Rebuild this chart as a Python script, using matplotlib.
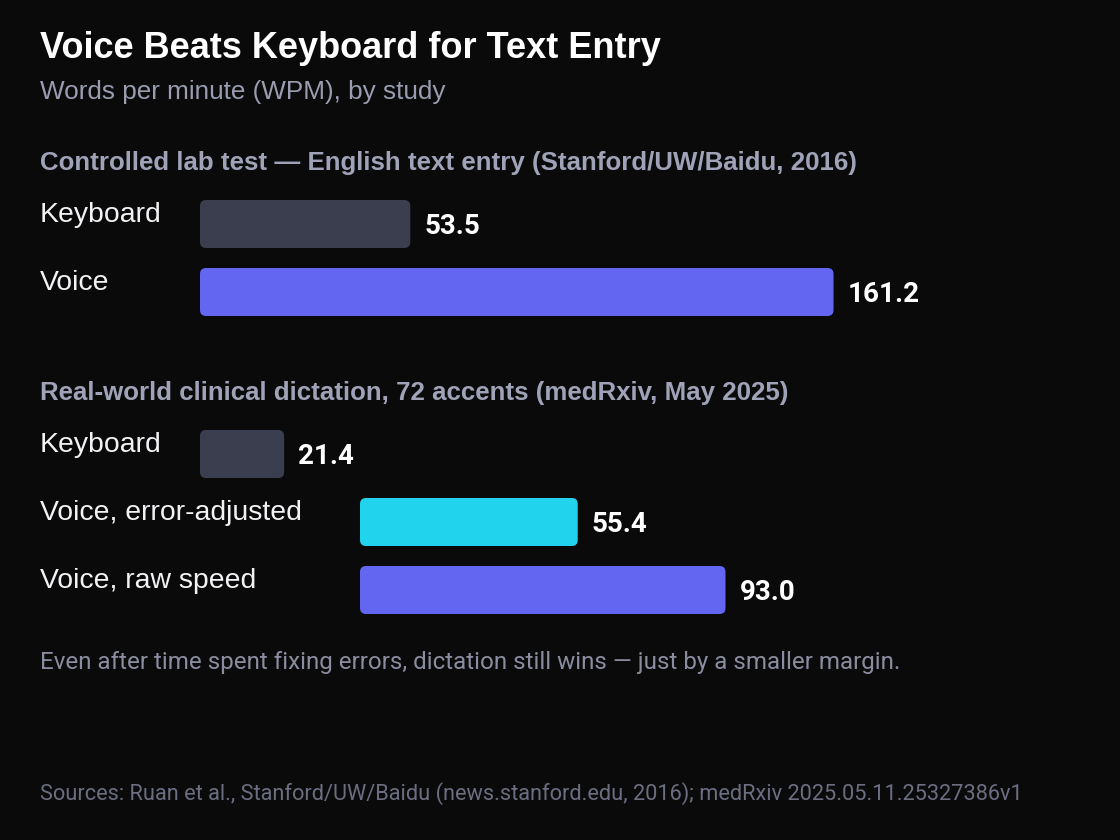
import matplotlib
matplotlib.use("Agg")
import matplotlib.pyplot as plt
from matplotlib.patches import FancyBboxPatch

# ---- data ----
title = "Voice Beats Keyboard for Text Entry"
subtitle = "Words per minute (WPM), by study"
section_titles = [
    "Controlled lab test \u2014 English text entry (Stanford/UW/Baidu, 2016)",
    "Real-world clinical dictation, 72 accents (medRxiv, May 2025)",
]
lab_labels = ["Keyboard", "Voice"]
lab_values = [53.5, 161.2]
clinic_labels = ["Keyboard", "Voice, error-adjusted", "Voice, raw speed"]
clinic_values = [21.4, 55.4, 93.0]
note = "Even after time spent fixing errors, dictation still wins \u2014 just by a smaller margin."
sources = "Sources: Ruan et al., Stanford/UW/Baidu (news.stanford.edu, 2016); medRxiv 2025.05.11.25327386v1"

# ---- style ----
BG = "#0a0a0b"
C_KEY = "#3b3e4f"
C_VOICE = "#6366f1"
C_CYAN = "#22d3ee"
lab_colors = [C_KEY, C_VOICE]
clinic_colors = [C_KEY, C_CYAN, C_VOICE]

W, H = 1120, 840
PX_PER_WPM = 3.93
X0 = 200  # pixel where bar axis zero sits

fig = plt.figure(figsize=(W / 100, H / 100), dpi=100, facecolor=BG)
# text axes in pixel coordinates
tax = fig.add_axes([0, 0, 1, 1])
tax.set_xlim(0, W)
tax.set_ylim(H, 0)
tax.axis("off")
tax.set_facecolor(BG)
# bar axes in WPM units horizontally, pixels vertically
bax = fig.add_axes([0, 0, 1, 1])
bax.set_xlim(-X0 / PX_PER_WPM, (W - X0) / PX_PER_WPM)
bax.set_ylim(H, 0)
bax.axis("off")
bax.patch.set_alpha(0)

FONT = ["Liberation Sans", "DejaVu Sans"]
NUMF = ["Roboto", "DejaVu Sans"]

tax.text(40, 49, title, fontsize=26, fontweight="bold", color="white",
         family=FONT, va="center", ha="left")
tax.text(40, 92, subtitle, fontsize=18.8, color="#9a9cb0",
         family=FONT, va="center", ha="left")


def draw_section(header_y, header, labels, values, colors, offsets, row_y0):
    tax.text(40, header_y, header, fontsize=18.6, fontweight="bold",
             color="#a0a3b8", family=FONT, va="center", ha="left")
    bar_h = 48
    r_px = 6
    for i, (lab, val, col, off) in enumerate(zip(labels, values, colors, offsets)):
        top = row_y0 + i * 68
        tax.text(40, top + 15, lab, fontsize=20.4, color="#f2f2f5",
                 family=FONT, va="center", ha="left")
        left = off / PX_PER_WPM
        r = r_px / PX_PER_WPM
        patch = FancyBboxPatch((left, top), val, bar_h,
                               boxstyle=f"round,pad=0,rounding_size={r}",
                               mutation_aspect=PX_PER_WPM,
                               facecolor=col, edgecolor="none")
        bax.add_patch(patch)
        bax.text(left + val + 14 / PX_PER_WPM, top + bar_h / 2 + 3, f"{val:.1f}",
                 fontsize=20, fontweight="bold", color="white",
                 family=NUMF, va="center", ha="left")


draw_section(163, section_titles[0], lab_labels, lab_values, lab_colors,
             [0, 0], 200)
draw_section(393, section_titles[1], clinic_labels, clinic_values, clinic_colors,
             [0, 160, 160], 430)

tax.text(40, 663, note, fontsize=17.4, color="#8a8d9f", family=NUMF,
         va="center", ha="left")
tax.text(40, 794, sources, fontsize=15.7, color="#6b6e80", family=NUMF,
         va="center", ha="left")

fig.savefig("out.png", dpi=100, facecolor=BG)
